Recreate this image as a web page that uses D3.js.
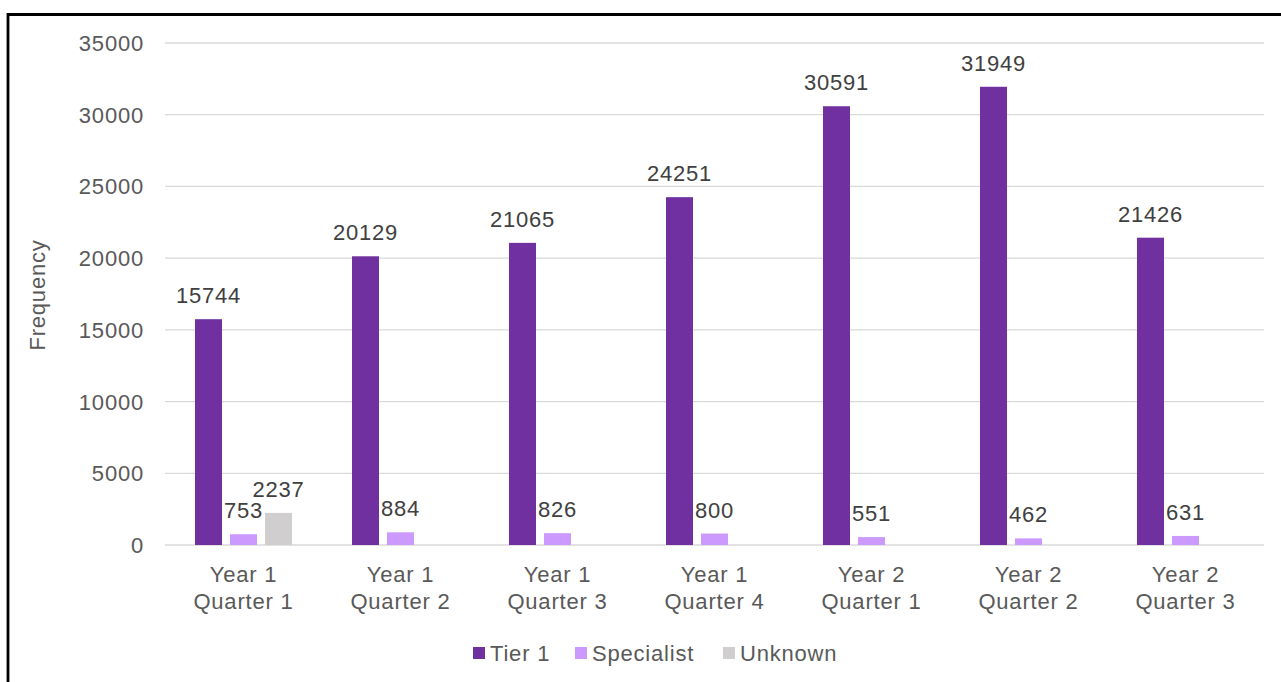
<!DOCTYPE html>
<html lang="en">
<head>
  <meta charset="UTF-8">
  <title>Frequency by quarter</title>
  <script src="https://cdn.jsdelivr.net/npm/d3@7"></script>
  <style>
    body { margin: 0; background: #fff; overflow: hidden; }
    text { font-family: "Liberation Sans", Arial, sans-serif; fill: #595959; letter-spacing: 0.8px; font-size: 22px; }
  </style>
</head>
<body>
  <svg width="1281" height="682"></svg>
  <script>
    var categories = [["Year 1", "Quarter 1"], ["Year 1", "Quarter 2"], ["Year 1", "Quarter 3"], ["Year 1", "Quarter 4"],
                      ["Year 2", "Quarter 1"], ["Year 2", "Quarter 2"], ["Year 2", "Quarter 3"]];
    var seriesNames = ["Tier 1", "Specialist", "Unknown"];
    var tier1 = [15744, 20129, 21065, 24251, 30591, 31949, 21426];
    var specialist = [753, 884, 826, 800, 551, 462, 631];
    var unknown = [2237, null, null, null, null, null, null];
    var yTicks = [0, 5000, 10000, 15000, 20000, 25000, 30000, 35000];
    var colors = ["#7030a0", "#cc99ff", "#d0cece"];

    var svg = d3.select("svg");
    var plotLeft = 165, plotRight = 1264, plotTop = 43, plotBottom = 545;

    // frame
    svg.append("path")
      .attr("d", "M8,682V14.5H1281")
      .attr("fill", "none").attr("stroke", "#000").attr("stroke-width", 2.8);

    var x = d3.scaleBand().domain(d3.range(categories.length)).range([plotLeft, plotRight]);
    var x1 = d3.scaleBand().domain(seriesNames).range([0, x.bandwidth()]).paddingInner(0.2286).paddingOuter(0.857);
    var y = d3.scaleLinear().domain([0, 35000]).range([plotBottom, plotTop]);

    // gridlines + y labels
    var yAxis = svg.append("g");
    yAxis.selectAll("line").data(yTicks).enter().append("line")
      .attr("x1", plotLeft).attr("x2", plotRight)
      .attr("y1", function (d) { return y(d); }).attr("y2", function (d) { return y(d); })
      .attr("stroke", "#d9d9d9").attr("stroke-width", 1.3);
    yAxis.selectAll("text").data(yTicks).enter().append("text")
      .attr("x", 144).attr("y", function (d) { return y(d) + 8; })
      .attr("text-anchor", "end")
      .text(function (d) { return d; });

    svg.append("text")
      .attr("transform", "translate(45,295) rotate(-90)")
      .attr("text-anchor", "middle")
      .text("Frequency");

    var data = [tier1, specialist, unknown];
    var groups = svg.selectAll("g.grp").data(categories).enter().append("g")
      .attr("class", "grp")
      .attr("transform", function (d, i) { return "translate(" + x(i) + ",0)"; });

    seriesNames.forEach(function (s, si) {
      var vals = data[si];
      var g = groups.filter(function (d, i) { return vals[i] != null; });
      g.append("rect")
        .attr("x", x1(s))
        .attr("width", x1.bandwidth())
        .attr("y", function (d) { return y(vals[categories.indexOf(d)]); })
        .attr("height", function (d) { return plotBottom - y(vals[categories.indexOf(d)]); })
        .attr("fill", colors[si]);
      g.append("text")
        .attr("x", x1(s) + x1.bandwidth() / 2)
        .attr("y", function (d) { return y(vals[categories.indexOf(d)]) - 16; })
        .attr("text-anchor", "middle")
        .style("fill", "#404040")
        .text(function (d) { return vals[categories.indexOf(d)]; });
    });

    // category labels
    groups.append("text")
      .attr("x", x.bandwidth() / 2).attr("y", 582)
      .attr("text-anchor", "middle")
      .text(function (d) { return d[0]; });
    groups.append("text")
      .attr("x", x.bandwidth() / 2).attr("y", 609)
      .attr("text-anchor", "middle")
      .text(function (d) { return d[1]; });

    // legend
    var legendX = [473, 575, 723];
    var legend = svg.selectAll("g.leg").data(seriesNames).enter().append("g")
      .attr("class", "leg")
      .attr("transform", function (d, i) { return "translate(" + legendX[i] + ",647)"; });
    legend.append("rect").attr("width", 12).attr("height", 12)
      .attr("fill", function (d, i) { return colors[i]; });
    legend.append("text").attr("x", 17).attr("y", 14)
      .text(function (d) { return d; });
  </script>
</body>
</html>
